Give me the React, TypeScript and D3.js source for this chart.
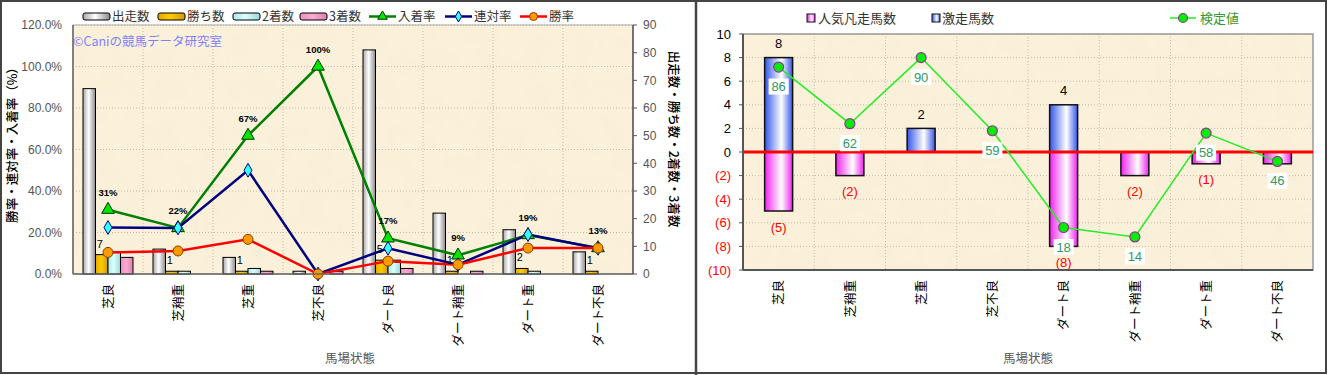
import * as d3 from "d3";
import React from "react";

// 馬場状態ごとの成績（左）と激走・凡走（右）
const categories = ["芝良", "芝稍重", "芝重", "芝不良", "ダート良", "ダート稍重", "ダート重", "ダート不良"];

const starts = [67, 9, 6, 1, 81, 22, 16, 8];
const wins = [7, 1, 1, 0, 5, 1, 2, 1];
const seconds = [8, 1, 2, 0, 5, 0, 1, 0];
const thirds = [6, 0, 1, 1, 2, 1, 0, 0];

const placeRate = [0.31, 0.222, 0.667, 1.0, 0.172, 0.09, 0.188, 0.125];
const quinellaRate = [0.224, 0.222, 0.5, 0, 0.124, 0.045, 0.19, 0.124];
const winRate = [0.104, 0.111, 0.167, 0, 0.062, 0.045, 0.125, 0.125];
const placeLabels = ["31%", "22%", "67%", "100%", "17%", "9%", "19%", "13%"];

const leftTicks = [0, 0.2, 0.4, 0.6, 0.8, 1.0, 1.2];
const rightTicks = [0, 10, 20, 30, 40, 50, 60, 70, 80, 90];

const gekisou = [8, 0, 2, 0, 4, 0, 0, 0];
const bonsou = [-5, -2, 0, 0, -8, -2, -1, -1];
const kentei = [86, 62, 90, 59, 18, 14, 58, 46];
const r2Ticks = [-10, -8, -6, -4, -2, 0, 2, 4, 6, 8, 10];

const JP = "'Noto Sans CJK JP', sans-serif";
const NUM = "'Liberation Sans', Arial, sans-serif";
const GRID = "#c4bcaa";

const barKeys = ["starts", "wins", "seconds", "thirds"];
const barData = { starts, wins, seconds, thirds };
const barFill = { starts: "url(#gGray)", wins: "url(#gGold)", seconds: "url(#gCyan)", thirds: "url(#gPink)" };

function LeftChart() {
  const L = 73, R = 633, T = 25, B = 274;
  const x = d3.scaleBand().domain(categories).range([L, R]);
  const xs = d3.scaleBand().domain(barKeys).range([10, 60]);
  const y = d3.scaleLinear().domain([0, 1.2]).range([B, T]);
  const y2 = d3.scaleLinear().domain([0, 90]).range([B, T]);
  const cx = (c) => x(c) + x.bandwidth() / 2;

  const line = d3.line().x((d, i) => cx(categories[i])).y((d) => y(d));
  const tri = d3.symbol(d3.symbolTriangle, 70)();
  const dia = d3.symbol(d3.symbolDiamond, 55)();

  const legendBars = [
    { key: "starts", label: "出走数", x: 83 },
    { key: "wins", label: "勝ち数", x: 158 },
    { key: "seconds", label: "2着数", x: 233 },
    { key: "thirds", label: "3着数", x: 300 },
  ];
  const legendLines = [
    { label: "入着率", x: 369, color: "#008000", mark: "tri" },
    { label: "連対率", x: 445, color: "#000080", mark: "dia" },
    { label: "勝率", x: 520, color: "#ff0000", mark: "circ" },
  ];

  return (
    <g>
      <rect x={L} y={T} width={R - L} height={B - T} fill="#fbf1da" />
      <rect x={L} y={T} width={R - L} height={B - T} filter="url(#paper)" />
      {leftTicks.slice(1).map((t) => (
        <line key={t} x1={L} x2={R} y1={y(t)} y2={y(t)} stroke={GRID} strokeDasharray="1,2" />
      ))}
      {categories.slice(1).map((c) => (
        <line key={c} x1={x(c)} x2={x(c)} y1={T} y2={B} stroke={GRID} strokeDasharray="1,2" />
      ))}
      <rect x={L} y={T} width={R - L} height={B - T} fill="none" stroke="#aaa" />
      <text x={L} y={46} fontFamily={JP} fontSize={12.5} fill="#8080ff">©Caniの競馬データ研究室</text>

      {categories.map((c, i) =>
        barKeys.map((k) => {
          const v = barData[k][i];
          if (!v) return null;
          return (
            <rect key={c + k} x={x(c) + xs(k)} y={y2(v)} width={xs.bandwidth()} height={B - y2(v)}
              fill={barFill[k]} stroke="#000" strokeWidth={1} />
          );
        })
      )}

      <path d={line(placeRate)} fill="none" stroke="#008000" strokeWidth={2.5} />
      <path d={line(quinellaRate)} fill="none" stroke="#000080" strokeWidth={2.5} />
      <path d={line(winRate)} fill="none" stroke="#ff0000" strokeWidth={2.5} />
      {categories.map((c, i) => (
        <g key={c}>
          <path d={tri} transform={`translate(${cx(c)},${y(placeRate[i])})`} fill="#00e600" stroke="#003300" strokeWidth={1} />
          <path d={dia} transform={`translate(${cx(c)},${y(quinellaRate[i])})`} fill="#33ffff" stroke="#000080" strokeWidth={1} />
          <circle cx={cx(c)} cy={y(winRate[i])} r={5} fill="#ff9900" stroke="#804000" strokeWidth={1} />
          <text x={cx(c)} y={y(placeRate[i]) - 14} textAnchor="middle" fontFamily={NUM} fontSize={9.5} fontWeight="bold" fill="#000">
            {placeLabels[i]}
          </text>
          {wins[i] > 0 && (
            <text x={x(c) + xs("wins") + xs.bandwidth() / 2 - 2} y={y2(wins[i]) - 7} textAnchor="middle"
              fontFamily={NUM} fontSize={11} fill="#000">{wins[i]}</text>
          )}
        </g>
      ))}

      <line x1={L} x2={L} y1={T} y2={B} stroke="#666" strokeWidth={1.5} />
      <line x1={L} x2={R} y1={B} y2={B} stroke="#666" strokeWidth={1.5} />
      <line x1={R} x2={R} y1={T} y2={B} stroke="#555" strokeWidth={1.5} />
      {leftTicks.map((t) => (
        <text key={t} x={62} y={y(t)} dy="0.35em" textAnchor="end" fontFamily={NUM} fontSize={12} fill="#555">
          {(t * 100).toFixed(1)}%
        </text>
      ))}
      {rightTicks.map((t) => (
        <g key={t}>
          <line x1={R} x2={R + 4} y1={y2(t)} y2={y2(t)} stroke="#555" />
          <text x={643} y={y2(t)} dy="0.35em" fontFamily={NUM} fontSize={12} fill="#555">{t}</text>
        </g>
      ))}
      {categories.map((c) => (
        <text key={c} transform={`translate(${cx(c)},284) rotate(-90)`} dy="0.38em" textAnchor="end"
          fontFamily={JP} fontSize={12.5} fill="#000">{c}</text>
      ))}
      <text transform="translate(13,142) rotate(-90)" dy="0.35em" textAnchor="middle" fontFamily={JP}
        fontSize={12.5} fontWeight={500} fill="#000">勝率・連対率・入着率（%）</text>
      <text transform="translate(673,139) rotate(90)" dy="0.35em" textAnchor="middle" fontFamily={JP}
        fontSize={12.5} fontWeight={500} fill="#000">出走数・勝ち数・2着数・3着数</text>
      <text x={350} y={359} dy="0.35em" textAnchor="middle" fontFamily={JP} fontSize={12.5} fill="#555">馬場状態</text>

      {legendBars.map((d) => (
        <g key={d.key}>
          <rect x={d.x} y={13} width={27} height={7} rx={2} fill={barFill[d.key]} stroke="#000" />
          <text x={d.x + 29} y={16.5} dy="0.35em" fontFamily={JP} fontSize={12.5} fill="#333">{d.label}</text>
        </g>
      ))}
      {legendLines.map((d) => (
        <g key={d.label}>
          <line x1={d.x} x2={d.x + 27} y1={16.5} y2={16.5} stroke={d.color} strokeWidth={2.5} />
          {d.mark === "tri" && <path d={d3.symbol(d3.symbolTriangle, 40)()} transform={`translate(${d.x + 13.5},16.5)`} fill="#00e600" stroke="#003300" />}
          {d.mark === "dia" && <path d={d3.symbol(d3.symbolDiamond, 35)()} transform={`translate(${d.x + 13.5},16.5)`} fill="#33ffff" stroke="#000080" />}
          {d.mark === "circ" && <circle cx={d.x + 13.5} cy={16.5} r={4} fill="#ff9900" stroke="#804000" />}
          <text x={d.x + 29} y={16.5} dy="0.35em" fontFamily={JP} fontSize={12.5} fill="#333">{d.label}</text>
        </g>
      ))}
    </g>
  );
}

function RightChart() {
  const L = 743, R = 1313, T = 34, B = 270;
  const x = d3.scaleBand().domain(categories).range([L, R]);
  const y = d3.scaleLinear().domain([-10, 10]).range([B, T]);
  const y2 = d3.scaleLinear().domain([0, 100]).range([B, T]);
  const cx = (c) => x(c) + x.bandwidth() / 2;
  const bw = 28;
  const line = d3.line().x((d, i) => cx(categories[i])).y((d) => y2(d));
  const fmt = (t) => (t < 0 ? `(${-t})` : `${t}`);

  return (
    <g>
      <rect x={L} y={T} width={R - L} height={B - T} fill="#fbf1da" />
      <rect x={L} y={T} width={R - L} height={B - T} filter="url(#paper)" />
      {r2Ticks.slice(1).map((t) => (
        <line key={t} x1={L} x2={R} y1={y(t)} y2={y(t)} stroke={GRID} strokeDasharray="1,2" />
      ))}
      {categories.slice(1).map((c) => (
        <line key={c} x1={x(c)} x2={x(c)} y1={T} y2={B} stroke={GRID} strokeDasharray="1,2" />
      ))}
      <rect x={L} y={T} width={R - L} height={B - T} fill="none" stroke="#999" strokeWidth={1.5} />

      {categories.map((c, i) => (
        <g key={c}>
          {gekisou[i] > 0 && (
            <rect x={cx(c) - bw / 2} y={y(gekisou[i])} width={bw} height={y(0) - y(gekisou[i])}
              fill="url(#gBlue)" stroke="#111" strokeWidth={1.5} />
          )}
          {bonsou[i] < 0 && (
            <rect x={cx(c) - bw / 2} y={y(0)} width={bw} height={y(bonsou[i]) - y(0)}
              fill="url(#gMag)" stroke="#111" strokeWidth={1.5} />
          )}
        </g>
      ))}
      <line x1={L} x2={R} y1={y(0)} y2={y(0)} stroke="#ff0000" strokeWidth={3} />

      {categories.map((c, i) => (
        <g key={c}>
          {gekisou[i] > 0 && (
            <text x={cx(c)} y={y(gekisou[i]) - 14} dy="0.35em" textAnchor="middle" fontFamily={NUM} fontSize={13} fill="#000">
              {gekisou[i]}
            </text>
          )}
          {bonsou[i] < 0 && (
            <text x={cx(c)} y={y(bonsou[i]) + 16} dy="0.35em" textAnchor="middle" fontFamily={NUM} fontSize={13} fill="#ff0000">
              {fmt(bonsou[i])}
            </text>
          )}
        </g>
      ))}

      <path d={line(kentei)} fill="none" stroke="#22ee22" strokeWidth={1.5} />
      {categories.map((c, i) => (
        <g key={c}>
          <circle cx={cx(c)} cy={y2(kentei[i])} r={5} fill="#00ee00" stroke="#993399" strokeWidth={1.2} />
          <rect x={cx(c) - 10} y={y2(kentei[i]) + 11.5} width={20} height={16} fill="#fff" />
          <text x={cx(c)} y={y2(kentei[i]) + 19.5} dy="0.35em" textAnchor="middle" fontFamily={NUM} fontSize={13} fill="#339966">
            {kentei[i]}
          </text>
        </g>
      ))}

      <line x1={L} x2={L} y1={T} y2={B} stroke="#555" strokeWidth={2} />
      <line x1={L} x2={R} y1={B} y2={B} stroke="#555" strokeWidth={2} />
      {r2Ticks.map((t) => (
        <g key={t}>
          <line x1={L - 4} x2={L} y1={y(t)} y2={y(t)} stroke="#555" />
          <text x={731} y={y(t)} dy="0.35em" textAnchor="end" fontFamily={NUM} fontSize={13} fill={t < 0 ? "#ff0000" : "#000"}>
            {fmt(t)}
          </text>
        </g>
      ))}
      {categories.map((c) => (
        <text key={c} transform={`translate(${cx(c)},280) rotate(-90)`} dy="0.38em" textAnchor="end"
          fontFamily={JP} fontSize={12.5} fill="#000">{c}</text>
      ))}
      <text x={1028} y={359} dy="0.35em" textAnchor="middle" fontFamily={JP} fontSize={12.5} fill="#555">馬場状態</text>

      <rect x={807} y={14} width={8} height={8} fill="url(#gMag)" stroke="#111" />
      <text x={818} y={18} dy="0.35em" fontFamily={JP} fontSize={13} fill="#333">人気凡走馬数</text>
      <rect x={932} y={14} width={8} height={8} fill="url(#gBlue)" stroke="#111" />
      <text x={942} y={18} dy="0.35em" fontFamily={JP} fontSize={13} fill="#333">激走馬数</text>
      <line x1={1170} x2={1196} y1={18} y2={18} stroke="#22ee22" strokeWidth={1.5} />
      <circle cx={1183} cy={18} r={4.5} fill="#00ee00" stroke="#993399" strokeWidth={1.2} />
      <text x={1200} y={18} dy="0.35em" fontFamily={JP} fontSize={13} fill="#339933">検定値</text>
    </g>
  );
}

export default function App() {
  const W = 1328, H = 375;
  return (
    <svg width={W} height={H} style={{ position: "absolute", left: 0, top: 0, background: "#fff" }}>
      <defs>
        <linearGradient id="gGray" x1="0" x2="1" y1="0" y2="0">
          <stop offset="0" stopColor="#a8a8a8" />
          <stop offset="0.45" stopColor="#ffffff" />
          <stop offset="1" stopColor="#8a8a8a" />
        </linearGradient>
        <linearGradient id="gGold" x1="0" x2="1" y1="0" y2="0">
          <stop offset="0" stopColor="#e0a800" />
          <stop offset="0.45" stopColor="#ffcc00" />
          <stop offset="1" stopColor="#d09a00" />
        </linearGradient>
        <linearGradient id="gCyan" x1="0" x2="1" y1="0" y2="0">
          <stop offset="0" stopColor="#a8e8e8" />
          <stop offset="0.45" stopColor="#dcffff" />
          <stop offset="1" stopColor="#98d8d8" />
        </linearGradient>
        <linearGradient id="gPink" x1="0" x2="1" y1="0" y2="0">
          <stop offset="0" stopColor="#e890c0" />
          <stop offset="0.45" stopColor="#ffaad4" />
          <stop offset="1" stopColor="#d880b0" />
        </linearGradient>
        <linearGradient id="gBlue" x1="0" x2="1" y1="0" y2="0">
          <stop offset="0" stopColor="#3355e8" />
          <stop offset="0.6" stopColor="#ffffff" />
          <stop offset="1" stopColor="#3355e8" />
        </linearGradient>
        <linearGradient id="gMag" x1="0" x2="1" y1="0" y2="0">
          <stop offset="0" stopColor="#ee22ee" />
          <stop offset="0.6" stopColor="#ffffff" />
          <stop offset="1" stopColor="#ee22ee" />
        </linearGradient>
        <filter id="paper" x="0" y="0" width="1" height="1">
          <feTurbulence type="fractalNoise" baseFrequency="0.04" numOctaves={4} seed={3} />
          <feColorMatrix type="matrix" values="0 0 0 0 0.92  0 0 0 0 0.84  0 0 0 0 0.66  0.8 0 0 0 -0.33" />
        </filter>
      </defs>
      <LeftChart />
      <RightChart />
      <rect x={1} y={1} width={W - 3} height={H - 3} fill="none" stroke="#444" strokeWidth={2} />
      <line x1={696} x2={696} y1={0} y2={H} stroke="#444" strokeWidth={2.5} />
    </svg>
  );
}
